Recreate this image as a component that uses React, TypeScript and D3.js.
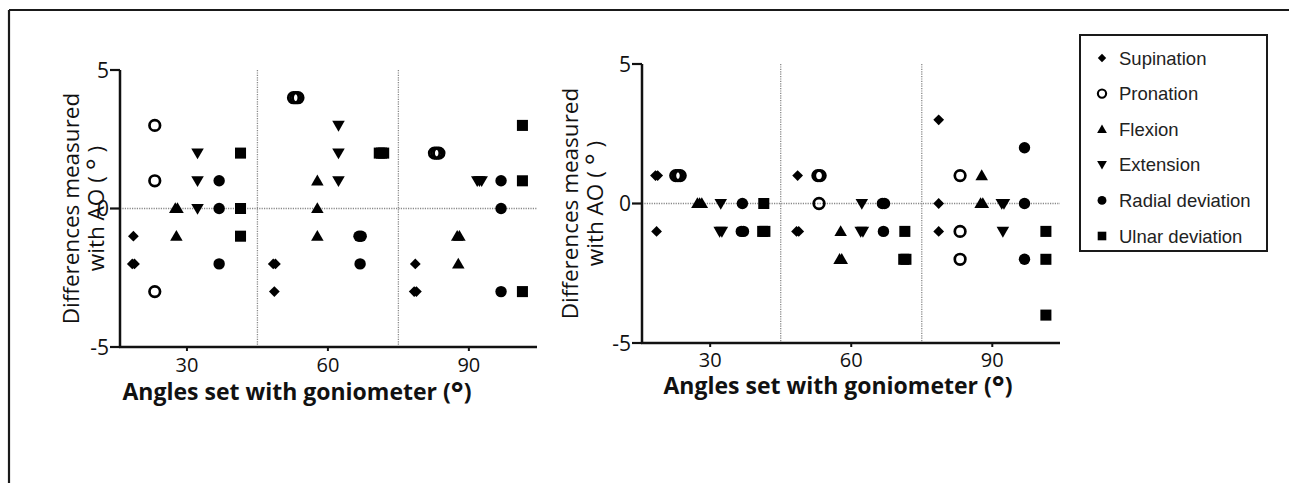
import React from "react";
import * as d3 from "d3";

const categories = [30, 60, 90];
const seriesNames = ["Supination", "Pronation", "Flexion", "Extension", "Radial deviation", "Ulnar deviation"];
const yTicks = [-5, 0, 5];
const groupBoundaries = [45, 75];

// Left panel: values per group (30, 60, 90)
const supinationA = [[-1, -2, -2], [-2, -2, -3], [-2, -3, -3]];
const pronationA = [[3, 1, -3], [4, 4, 4], [2, 2, 2]];
const flexionA = [[0, 0, -1], [1, 0, -1], [-1, -1, -2]];
const extensionA = [[2, 1, 0], [3, 2, 1], [1, 1, 1]];
const radialA = [[1, 0, -2], [-1, -1, -2], [1, 0, -3]];
const ulnarA = [[2, 0, -1], [2, 2, 2], [3, 1, -3]];

// Right panel
const supinationB = [[1, 1, -1], [1, -1, -1], [3, 0, -1]];
const pronationB = [[1, 1, 1], [1, 1, 0], [1, -1, -2]];
const flexionB = [[0, 0, 0], [-1, -2, -2], [1, 0, 0]];
const extensionB = [[0, -1, -1], [0, -1, -1], [0, 0, -1]];
const radialB = [[0, -1, -1], [0, 0, -1], [2, 0, -2]];
const ulnarB = [[0, -1, -1], [-1, -2, -2], [-1, -2, -4]];

const panelA = [supinationA, pronationA, flexionA, extensionA, radialA, ulnarA];
const panelB = [supinationB, pronationB, flexionB, extensionB, radialB, ulnarB];

const seriesOffsets = [-11.4, -6.85, -2.25, 2.25, 6.85, 11.4];

const FONT = "'Open Sans', 'DejaVu Sans', sans-serif";

function Marker({ kind, x, y, scale = 1 }: { kind: number; x: number; y: number; scale?: number }) {
  const s = scale;
  if (kind === 0) {
    const d = d3.symbol(d3.symbolSquare, 58 * s * s)() as string;
    return <path d={d} transform={`translate(${x},${y}) rotate(45)`} fill="#000" />;
  }
  if (kind === 1) {
    return <circle cx={x} cy={y} r={5.3 * s} fill="none" stroke="#000" strokeWidth={2.7 * s} />;
  }
  if (kind === 2) {
    const d = d3.symbol(d3.symbolTriangle, 68 * s * s)() as string;
    return <path d={d} transform={`translate(${x},${y + 1})`} fill="#000" />;
  }
  if (kind === 3) {
    const d = d3.symbol(d3.symbolTriangle, 68 * s * s)() as string;
    return <path d={d} transform={`translate(${x},${y - 1}) rotate(180)`} fill="#000" />;
  }
  if (kind === 4) {
    return <circle cx={x} cy={y} r={5.7 * s} fill="#000" />;
  }
  const d = d3.symbol(d3.symbolSquare, 122 * s * s)() as string;
  return <path d={d} transform={`translate(${x},${y})`} fill="#000" />;
}

function Panel({
  data, x0, x1, yTop, yBot, xDomain, labelX, tickLabelDy, titleY, titleX,
}: {
  data: number[][][]; x0: number; x1: number; yTop: number; yBot: number;
  xDomain: [number, number]; labelX: number; tickLabelDy: number; titleY: number; titleX: number;
}) {
  const x = d3.scaleLinear().domain(xDomain).range([x0, x1]);
  const y = d3.scaleLinear().domain([-5, 5]).range([yBot, yTop]);
  const marks: JSX.Element[] = [];
  data.forEach((series, si) => {
    series.forEach((vals, gi) => {
      const counts = d3.rollup(vals, (v) => v.length, (v) => v);
      const seen = new Map<number, number>();
      vals.forEach((v, vi) => {
        const k = counts.get(v) || 1;
        const idx = seen.get(v) || 0;
        seen.set(v, idx + 1);
        const jitter = (idx - (k - 1) / 2) * 2.2;
        marks.push(
          <Marker key={`${si}-${gi}-${vi}`} kind={si} x={x(categories[gi] + seriesOffsets[si]) + jitter} y={y(v)} />
        );
      });
    });
  });
  const midY = (yTop + yBot) / 2;
  return (
    <g>
      <line x1={x0} x2={x1} y1={y(0)} y2={y(0)} stroke="#888" strokeWidth={1.3} strokeDasharray="1.2,1.2" />
      {groupBoundaries.map((b) => (
        <line key={b} x1={x(b)} x2={x(b)} y1={yTop} y2={yBot} stroke="#888" strokeWidth={1.3} strokeDasharray="1.2,1.2" />
      ))}
      {marks}
      <line x1={x0} x2={x0} y1={yTop} y2={yBot} stroke="#111" strokeWidth={2.5} />
      <line x1={x0 - 1} x2={x1} y1={yBot} y2={yBot} stroke="#111" strokeWidth={2.5} />
      {yTicks.map((t) => (
        <g key={t}>
          <line x1={x0 - 10} x2={x0} y1={y(t)} y2={y(t)} stroke="#111" strokeWidth={2.2} />
          <text x={x0 - 11} y={y(t)} dy="0.36em" textAnchor="end" fontFamily={FONT} fontSize={21} fill="#111">
            {t}
          </text>
        </g>
      ))}
      {categories.map((c) => (
        <g key={c}>
          <line x1={x(c)} x2={x(c)} y1={yBot} y2={yBot + 4} stroke="#111" strokeWidth={2} />
          <text x={x(c)} y={yBot + tickLabelDy} textAnchor="middle" fontFamily={FONT} fontSize={20} fill="#111">
            {c}
          </text>
        </g>
      ))}
      <text
        x={titleX}
        y={titleY}
        textAnchor="middle"
        fontFamily={FONT}
        fontWeight="bold"
        fontSize={23}
        fill="#111"
      >
        Angles set with goniometer (<tspan fontSize={30} dy="4">°</tspan><tspan dy="-4">)</tspan>
      </text>
      <g transform={`translate(${labelX},${midY}) rotate(-90)`}>
        <text x={0} y={0} textAnchor="middle" fontFamily={FONT} fontSize={22.5} fill="#111">
          Differences measured
        </text>
        <text x={0} y={25} textAnchor="middle" fontFamily={FONT} fontSize={22.5} fill="#111">
          with AO ( <tspan fontSize={28} dy="3">°</tspan><tspan dy="-3"> )</tspan>
        </text>
      </g>
    </g>
  );
}

export default function App() {
  const legendX = 1080, legendY = 35, legendW = 187, legendH = 216;
  const rowY = d3.scaleLinear().domain([0, 5]).range([58, 236]);
  return (
    <svg
      width={1289}
      height={483}
      style={{ position: "absolute", left: 0, top: 0, background: "#fff" }}
    >
      <rect x={0} y={0} width={1289} height={483} fill="#fff" />
      <line x1={9} x2={1289} y1={10} y2={10} stroke="#1a1a1a" strokeWidth={2.2} />
      <line x1={9} x2={9} y1={10} y2={483} stroke="#1a1a1a" strokeWidth={2.2} />

      <Panel
        data={panelA}
        x0={120}
        x1={537}
        yTop={70}
        yBot={347}
        xDomain={[15.75, 104.5]}
        labelX={79}
        tickLabelDy={25}
        titleY={400}
        titleX={297}
      />
      <Panel
        data={panelB}
        x0={642}
        x1={1060}
        yTop={64}
        yBot={343}
        xDomain={[15.5, 104.4]}
        labelX={578}
        tickLabelDy={24}
        titleY={394}
        titleX={838}
      />

      <rect x={legendX} y={legendY} width={legendW} height={legendH} fill="#fff" stroke="#1a1a1a" strokeWidth={2} />
      {seriesNames.map((n, i) => (
        <g key={n}>
          <Marker kind={i} x={1102} y={rowY(i)} scale={0.78} />
          <text x={1119} y={rowY(i)} dy="0.36em" fontFamily="'Liberation Sans', Arial, sans-serif" fontSize={18.5} fill="#222">
            {n}
          </text>
        </g>
      ))}
    </svg>
  );
}
